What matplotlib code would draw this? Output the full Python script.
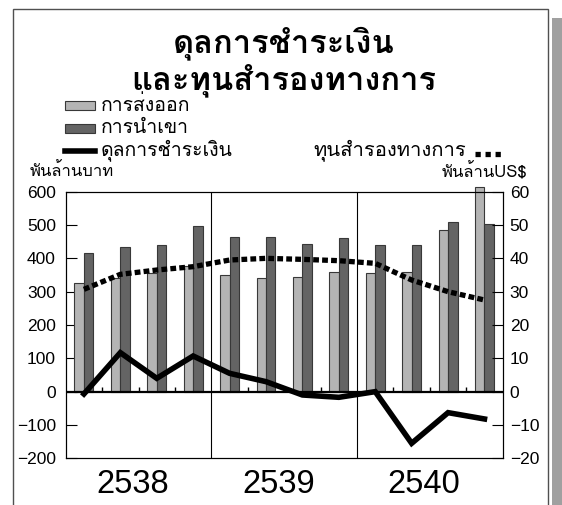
import matplotlib
matplotlib.use('Agg')
import matplotlib.pyplot as plt
import matplotlib.transforms as mtransforms
from matplotlib.patches import Rectangle
from matplotlib.lines import Line2D
import numpy as np

years = ['2538', '2539', '2540']
exports = [325, 340, 355, 378, 350, 340, 345, 360, 357, 358, 484, 613]
imports = [415, 435, 441, 497, 465, 465, 443, 460, 439, 439, 510, 503]
balance = [-7, 117, 40, 107, 55, 30, -10, -17, 0, -155, -63, -82]
reserves = [30.7, 35.2, 36.5, 37.5, 39.5, 40.0, 39.7, 39.3, 38.5, 33.5, 30.0, 27.5]
left_ticks = [-200, -100, 0, 100, 200, 300, 400, 500, 600]
right_ticks = [-20, -10, 0, 10, 20, 30, 40, 50, 60]

W, H = 562, 505
fig = plt.figure(figsize=(W / 100, H / 100), dpi=100)
plt.rcParams['font.family'] = ['Loma', 'DejaVu Sans']

def fx(px):
    return px / W

def fy(py):
    return 1 - py / H

ax = fig.add_axes([fx(65.7), fy(458.3), fx(502.7) - fx(65.7), fy(191.7) - fy(458.3)])
ax2 = ax.twinx()

n = len(exports)
x = np.arange(n) + 0.5
bw = 0.26
ax.bar(x - bw / 2, exports, bw, color='#b4b4b4', edgecolor='#383838', linewidth=0.8, clip_on=False, zorder=2)
ax.bar(x + bw / 2, imports, bw, color='#646464', edgecolor='#383838', linewidth=0.8, clip_on=False, zorder=2)
ax.plot(x, balance, color='black', lw=4, solid_joinstyle='miter', zorder=4)
ax.axhline(0, color='black', lw=1.6, zorder=3)
for b in (4, 8):
    ax.axvline(b, color='black', lw=0.8, zorder=1)
qt = [q for q in range(1, n) if q % 4 != 0]
ax.vlines(qt, 0, 15, color='black', lw=1, zorder=3)

ax.set_xlim(0, n)
ax.set_ylim(-200, 600)
ax.set_yticks(left_ticks)
ax.set_xticks([2, 6, 10])
ax.set_xticklabels(years, fontsize=23.5, family='Liberation Sans')
ax.tick_params(axis='x', length=0, pad=8)
shift = mtransforms.ScaledTranslation(-6 / 100, 0, fig.dpi_scale_trans)
for lab in ax.get_xticklabels():
    lab.set_transform(lab.get_transform() + shift)
ax.tick_params(axis='y', direction='in', length=8, pad=7, labelsize=12.5)
for lab in ax.get_yticklabels():
    lab.set_family('Liberation Sans')

ax2.plot(x, reserves, color='black', lw=3.8, linestyle=(0, (1.1, 0.6)), dash_capstyle='butt', zorder=4)
ax2.set_ylim(-20, 60)
ax2.set_yticks(right_ticks)
ax2.tick_params(axis='y', direction='in', length=8, pad=5, labelsize=12.5)
for lab in ax2.get_yticklabels():
    lab.set_family('Liberation Sans')
ax2.set_zorder(ax.get_zorder() + 1)
ax2.patch.set_visible(False)

# title
fig.text(fx(284), fy(43), 'ดุลการชำระเงิน', ha='center', va='center', fontsize=23.5, fontweight='bold')
fig.text(fx(284), fy(80), 'และทุนสำรองทางการ', ha='center', va='center', fontsize=23.5, fontweight='bold')

# legend
def box(x0, y0, color):
    fig.add_artist(Rectangle((fx(x0), fy(y0 + 9)), fx(30), 9 / H, facecolor=color, edgecolor='#383838', lw=0.8))

box(65, 101, '#b4b4b4')
box(65, 124, '#646464')
fig.add_artist(Line2D([fx(65), fx(95)], [fy(151), fy(151)], color='black', lw=4))
lfs = 14
fig.text(fx(101), fy(105), 'การส่งออก', va='center', fontsize=lfs)
fig.text(fx(101), fy(128), 'การนำเขา', va='center', fontsize=lfs)
fig.text(fx(101), fy(150), 'ดุลการชำระเงิน', va='center', fontsize=lfs)
fig.text(fx(313), fy(150), 'ทุนสำรองทางการ', va='center', fontsize=14.5)
fig.add_artist(Line2D([fx(475), fx(501)], [fy(154), fy(154)], color='black', lw=3.8, linestyle=(0, (1.0, 0.9)), dash_capstyle='butt'))

fig.text(fx(30), fy(172), 'พันล้านบาท', va='center', fontsize=12)
fig.text(fx(527), fy(172), 'พันล้านUS$', va='center', ha='right', fontsize=12)

# frame and shadow
fig.add_artist(Rectangle((fx(13), -0.05), fx(548) - fx(13), fy(9) + 0.05, fill=False, edgecolor='#505050', lw=1))
fig.add_artist(Rectangle((fx(551.5), 0), 1 - fx(551.5), fy(18), facecolor='#a0a0a0', edgecolor='none'))

fig.savefig('out.png', dpi=100)
